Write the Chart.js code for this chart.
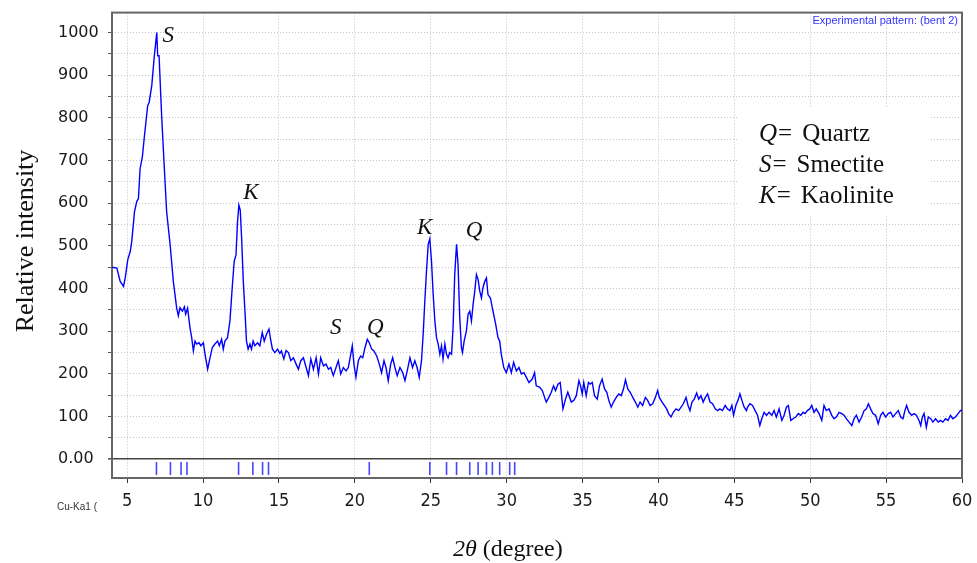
<!DOCTYPE html>
<html>
<head>
<meta charset="utf-8">
<title>XRD pattern</title>
<script src="https://cdn.jsdelivr.net/npm/chart.js@4.4.1/dist/chart.umd.min.js"></script>
<style>
  body { margin: 0; background: #fff; }
  #wrap { width: 977px; height: 563px; position: relative; }
</style>
</head>
<body>
<div id="wrap"><canvas id="xrdChart"></canvas></div>
<script>
// measured pattern, 2theta (deg) vs relative intensity
var twoTheta = [
  4.0, 4.32, 4.54, 4.76, 4.87, 5.04, 5.2, 5.3, 5.48, 5.63, 5.74, 5.85, 6.0, 6.14, 6.35, 6.45, 6.62, 6.79, 6.95, 7.01,
  7.1, 7.27, 7.45, 7.6, 7.83, 8.04, 8.26, 8.37, 8.48, 8.64, 8.77, 8.85, 8.98, 9.14, 9.25, 9.36, 9.47, 9.58, 9.73, 9.86,
  10.02, 10.13, 10.3, 10.46, 10.61, 10.78, 10.96, 11.07, 11.22, 11.33, 11.44, 11.61, 11.77, 11.92, 12.05, 12.17, 12.27, 12.36, 12.45, 12.54,
  12.65, 12.76, 12.86, 12.97, 13.09, 13.19, 13.3, 13.41, 13.59, 13.74, 13.9, 14.03, 14.18, 14.34, 14.47, 14.57, 14.73, 14.9, 15.06, 15.16,
  15.32, 15.47, 15.62, 15.78, 15.95, 16.13, 16.28, 16.44, 16.61, 16.79, 16.94, 17.1, 17.27, 17.45, 17.6, 17.75, 17.93, 18.1, 18.26, 18.41,
  18.58, 18.76, 18.91, 19.07, 19.24, 19.42, 19.57, 19.73, 19.83, 19.94, 20.07, 20.23, 20.38, 20.52, 20.67, 20.82, 20.95, 21.11, 21.26, 21.44,
  21.61, 21.76, 21.92, 22.05, 22.2, 22.36, 22.49, 22.64, 22.79, 22.97, 23.15, 23.3, 23.45, 23.63, 23.8, 23.95, 24.1, 24.24, 24.39, 24.5,
  24.61, 24.72, 24.83, 24.94, 25.05, 25.16, 25.27, 25.38, 25.49, 25.6, 25.71, 25.81, 25.93, 26.04, 26.14, 26.25, 26.37, 26.47, 26.58, 26.7,
  26.8, 26.91, 27.02, 27.09, 27.2, 27.35, 27.46, 27.57, 27.68, 27.79, 27.9, 28.01, 28.12, 28.23, 28.34, 28.44, 28.56, 28.67, 28.77, 28.93,
  29.1, 29.28, 29.43, 29.54, 29.65, 29.81, 29.98, 30.15, 30.31, 30.46, 30.64, 30.81, 30.97, 31.14, 31.3, 31.47, 31.69, 31.84, 31.95, 32.17,
  32.35, 32.5, 32.61, 32.78, 32.94, 33.09, 33.22, 33.38, 33.53, 33.71, 33.88, 34.03, 34.26, 34.43, 34.59, 34.76, 34.87, 34.98, 35.08, 35.24,
  35.39, 35.5, 35.64, 35.79, 35.97, 36.12, 36.29, 36.45, 36.6, 36.73, 36.89, 37.04, 37.22, 37.39, 37.55, 37.7, 37.83, 37.98, 38.14, 38.31,
  38.48, 38.64, 38.79, 38.96, 39.14, 39.29, 39.45, 39.62, 39.8, 39.95, 40.06, 40.24, 40.39, 40.54, 40.67, 40.83, 40.98, 41.16, 41.33, 41.49,
  41.64, 41.82, 41.95, 42.08, 42.21, 42.36, 42.52, 42.65, 42.8, 42.95, 43.09, 43.24, 43.4, 43.57, 43.74, 43.9, 44.05, 44.22, 44.4, 44.55,
  44.71, 44.84, 44.95, 45.1, 45.24, 45.37, 45.5, 45.65, 45.8, 45.87, 46.03, 46.2, 46.37, 46.53, 46.68, 46.81, 46.96, 47.12, 47.29, 47.47,
  47.62, 47.77, 47.95, 48.13, 48.28, 48.43, 48.56, 48.72, 48.87, 49.05, 49.22, 49.38, 49.53, 49.66, 49.81, 49.97, 50.1, 50.25, 50.4, 50.58,
  50.76, 50.91, 51.06, 51.24, 51.42, 51.57, 51.72, 51.9, 52.08, 52.23, 52.38, 52.56, 52.74, 52.89, 53.04, 53.22, 53.39, 53.55, 53.7, 53.83,
  53.98, 54.13, 54.31, 54.48, 54.64, 54.79, 54.97, 55.14, 55.3, 55.45, 55.63, 55.8, 55.96, 56.11, 56.24, 56.35, 56.51, 56.68, 56.84, 56.99,
  57.17, 57.28, 57.39, 57.5, 57.65, 57.78, 57.94, 58.08, 58.26, 58.43, 58.58, 58.74, 58.91, 59.08, 59.24, 59.39, 59.57, 59.74, 59.9, 60.0
];
var intensity = [
  450, 448, 417, 405, 425, 468, 487, 510, 580, 604, 611, 681, 709, 759, 829, 837, 876, 946, 1000, 946,
  946, 806, 681, 580, 503, 417, 355, 336, 355, 347, 357, 340, 354, 308, 285, 254, 277, 270, 273, 266,
  273, 246, 211, 238, 262, 270, 277, 266, 281, 258, 277, 285, 324, 402, 464, 479, 557, 596, 584, 518,
  417, 347, 277, 258, 270, 258, 277, 266, 273, 266, 297, 277, 293, 305, 277, 258, 250, 258, 248, 254,
  235, 255, 250, 231, 238, 223, 211, 231, 238, 215, 196, 235, 211, 238, 200, 238, 219, 223, 211, 215,
  196, 215, 231, 200, 215, 207, 215, 246, 266, 223, 192, 231, 242, 238, 262, 281, 273, 258, 254, 242,
  223, 203, 231, 215, 184, 223, 238, 215, 196, 215, 203, 184, 207, 238, 215, 231, 215, 192, 231, 293,
  371, 441, 503, 517, 464, 386, 324, 285, 270, 246, 266, 235, 270, 246, 238, 250, 246, 308, 433, 504,
  456, 332, 262, 250, 277, 301, 340, 347, 324, 363, 394, 433, 421, 394, 378, 402, 417, 425, 386, 378,
  347, 316, 285, 277, 246, 215, 203, 223, 203, 227, 207, 215, 200, 203, 192, 180, 188, 203, 172, 169,
  161, 145, 134, 145, 157, 172, 161, 176, 180, 118, 141, 157, 134, 138, 149, 184, 172, 153, 180, 149,
  180, 176, 180, 149, 141, 172, 188, 165, 157, 138, 122, 134, 145, 153, 149, 165, 186, 165, 157, 145,
  134, 122, 134, 126, 145, 138, 126, 130, 145, 161, 145, 134, 126, 118, 107, 99, 110, 118, 114, 122,
  130, 145, 126, 114, 134, 141, 155, 141, 149, 134, 145, 153, 134, 130, 118, 114, 118, 114, 126, 118,
  114, 126, 103, 126, 138, 153, 138, 122, 114, 122, 130, 126, 114, 103, 79, 95, 110, 103, 110, 103,
  114, 99, 118, 91, 103, 122, 126, 91, 95, 99, 107, 103, 110, 107, 114, 118, 126, 110, 118, 107,
  91, 126, 114, 118, 103, 95, 99, 110, 107, 103, 95, 87, 79, 95, 103, 87, 99, 114, 118, 130,
  118, 107, 103, 83, 103, 110, 99, 107, 110, 99, 107, 114, 99, 95, 114, 126, 110, 103, 107, 103,
  91, 79, 99, 107, 75, 99, 95, 87, 95, 87, 91, 87, 95, 91, 103, 95, 99, 107, 114, 116
];

// reference line positions shown under the zero line
var refLines = [6.93, 7.85, 8.55, 8.94, 12.34, 13.28, 13.92, 14.31, 20.95, 24.94, 26.04, 26.7,
  27.57, 28.12, 28.67, 29.06, 29.54, 30.2, 30.53];

var xTicks = [5, 10, 15, 20, 25, 30, 35, 40, 45, 50, 55, 60];
var yTicks = [0, 50, 100, 150, 200, 250, 300, 350, 400, 450, 500, 550, 600, 650, 700, 750, 800, 850, 900, 950, 1000];

// peak letters: letter, 2theta and intensity at the text's left baseline
var peakLetters = ['S', 'K', 'S', 'Q', 'K', 'Q'];
var peakX = [7.32, 12.65, 18.37, 20.8, 24.09, 27.3];
var peakY = [979, 611, 294, 294, 529, 522];

var legendLetters = ['Q', 'S', 'K'];
var legendNames = ['Quartz', 'Smectite', 'Kaolinite'];

var SERIF = '"Liberation Serif", "Times New Roman", serif';
var SANS = '"Liberation Sans", Arial, sans-serif';

function points() {
  return twoTheta.map(function (t, i) { return { x: t, y: intensity[i] }; });
}

// box around the plot and the white panel behind the phase legend
var framePlugin = {
  id: 'frame',
  beforeDatasetsDraw: function (chart) {
    var a = chart.chartArea, ctx = chart.ctx;
    ctx.save();
    ctx.fillStyle = '#fff';
    ctx.fillRect(737, 107, 193, 108);
    ctx.strokeStyle = '#666';
    ctx.lineWidth = 2;
    ctx.strokeRect(a.left, a.top, a.right - a.left, a.bottom - a.top);
    ctx.restore();
  }
};

var textPlugin = {
  id: 'texts',
  afterDraw: function (chart) {
    var ctx = chart.ctx, xs = chart.scales.x, ys = chart.scales.y;
    ctx.save();
    ctx.fillStyle = '#111';

    // y axis title
    ctx.save();
    ctx.translate(26, 241);
    ctx.rotate(-Math.PI / 2);
    ctx.font = '26px ' + SERIF;
    ctx.textAlign = 'center';
    ctx.textBaseline = 'middle';
    ctx.fillText('Relative intensity', 0, 0);
    ctx.restore();

    // x axis title, 2θ in italics
    ctx.textBaseline = 'alphabetic';
    ctx.textAlign = 'left';
    ctx.font = 'italic 24px ' + SERIF;
    ctx.fillText('2θ', 453, 556);
    var w = ctx.measureText('2θ').width;
    ctx.font = '24px ' + SERIF;
    ctx.fillText(' (degree)', 453 + w, 556);

    // radiation label left of the x ticks
    ctx.fillStyle = '#333';
    ctx.font = '10px ' + SANS;
    ctx.fillText('Cu-Ka1 (', 57, 510);

    // pattern name
    ctx.fillStyle = '#3535ff';
    ctx.font = '11px ' + SANS;
    ctx.textAlign = 'right';
    ctx.fillText('Experimental pattern: (bent 2)', 958, 24);

    // phase legend
    ctx.fillStyle = '#111';
    ctx.textAlign = 'left';
    for (var i = 0; i < legendLetters.length; i++) {
      var x = 759, y = 141 + i * 31;
      ctx.font = 'italic 25px ' + SERIF;
      ctx.fillText(legendLetters[i], x, y);
      x += ctx.measureText(legendLetters[i]).width + 1;
      ctx.font = '25px ' + SERIF;
      ctx.fillText('=', x, y);
      x += ctx.measureText('=').width + 10;
      ctx.fillText(legendNames[i], x, y);
    }

    // peak letters
    ctx.font = 'italic 23px ' + SERIF;
    for (var j = 0; j < peakLetters.length; j++) {
      ctx.fillText(peakLetters[j], xs.getPixelForValue(peakX[j]), ys.getPixelForValue(peakY[j]));
    }
    ctx.restore();
  }
};

function loadChart() {
  var ctx = document.getElementById('xrdChart');
  var myChart = new Chart(ctx, {
    type: 'line',
    data: {
      datasets: [{
        label: 'bent 2',
        data: points(),
        borderColor: '#0000ff',
        borderWidth: 1.4,
        pointRadius: 0,
        tension: 0
      }, {
        type: 'scatter',
        label: 'reference',
        data: refLines.map(function (t) { return { x: t, y: -22 }; }),
        pointStyle: 'line',
        rotation: 90,
        pointRadius: 6.5,
        borderColor: '#4646ff',
        borderWidth: 1.6,
        showLine: false
      }]
    },
    options: {
      responsive: true,
      maintainAspectRatio: false,
      animation: false,
      layout: { padding: { left: 58, top: 10, right: 15, bottom: 0 } },
      plugins: { legend: { display: false }, tooltip: { enabled: false } },
      scales: {
        x: {
          type: 'linear',
          min: 4,
          max: 60,
          afterBuildTicks: function (scale) {
            scale.ticks = xTicks.map(function (v) { return { value: v }; });
          },
          afterFit: function (scale) {
            scale.height = 85;
            // the last label may hang past the frame, don't let it shrink the plot
            scale.paddingLeft = 0;
            scale.paddingRight = 0;
          },
          border: { display: false, dash: [1, 2] },
          grid: { color: '#c4c4c4', tickColor: '#333', tickLength: 5, tickBorderDash: [] },
          ticks: {
            autoSkip: false,
            maxRotation: 0,
            padding: 8,
            color: '#1a1a1a',
            font: { family: '"DejaVu Sans Condensed", "Liberation Sans Narrow", "DejaVu Sans"', size: 18 }
          }
        },
        y: {
          type: 'linear',
          min: -44,
          max: 1047,
          afterBuildTicks: function (scale) {
            scale.ticks = yTicks.map(function (v) { return { value: v }; });
          },
          afterFit: function (scale) { scale.width = 54; },
          border: {
            display: false,
            dash: function (c) { return c.tick && c.tick.value === 0 ? [] : [1, 2]; }
          },
          grid: {
            color: function (c) { return c.tick && c.tick.value === 0 ? '#444' : '#c4c4c4'; },
            lineWidth: function (c) { return c.tick && c.tick.value === 0 ? 1.6 : 1; },
            tickColor: '#555',
            tickLength: 4,
            tickBorderDash: []
          },
          ticks: {
            autoSkip: false,
            crossAlign: 'far',
            color: '#1a1a1a',
            font: { family: '"DejaVu Sans", Verdana, sans-serif', size: 16 },
            callback: function (v) {
              if (v === 0) return '0.00';
              return v % 100 === 0 ? String(v) : '';
            }
          }
        }
      }
    },
    plugins: [framePlugin, textPlugin]
  });
  return myChart;
}

loadChart();
</script>
</body>
</html>
